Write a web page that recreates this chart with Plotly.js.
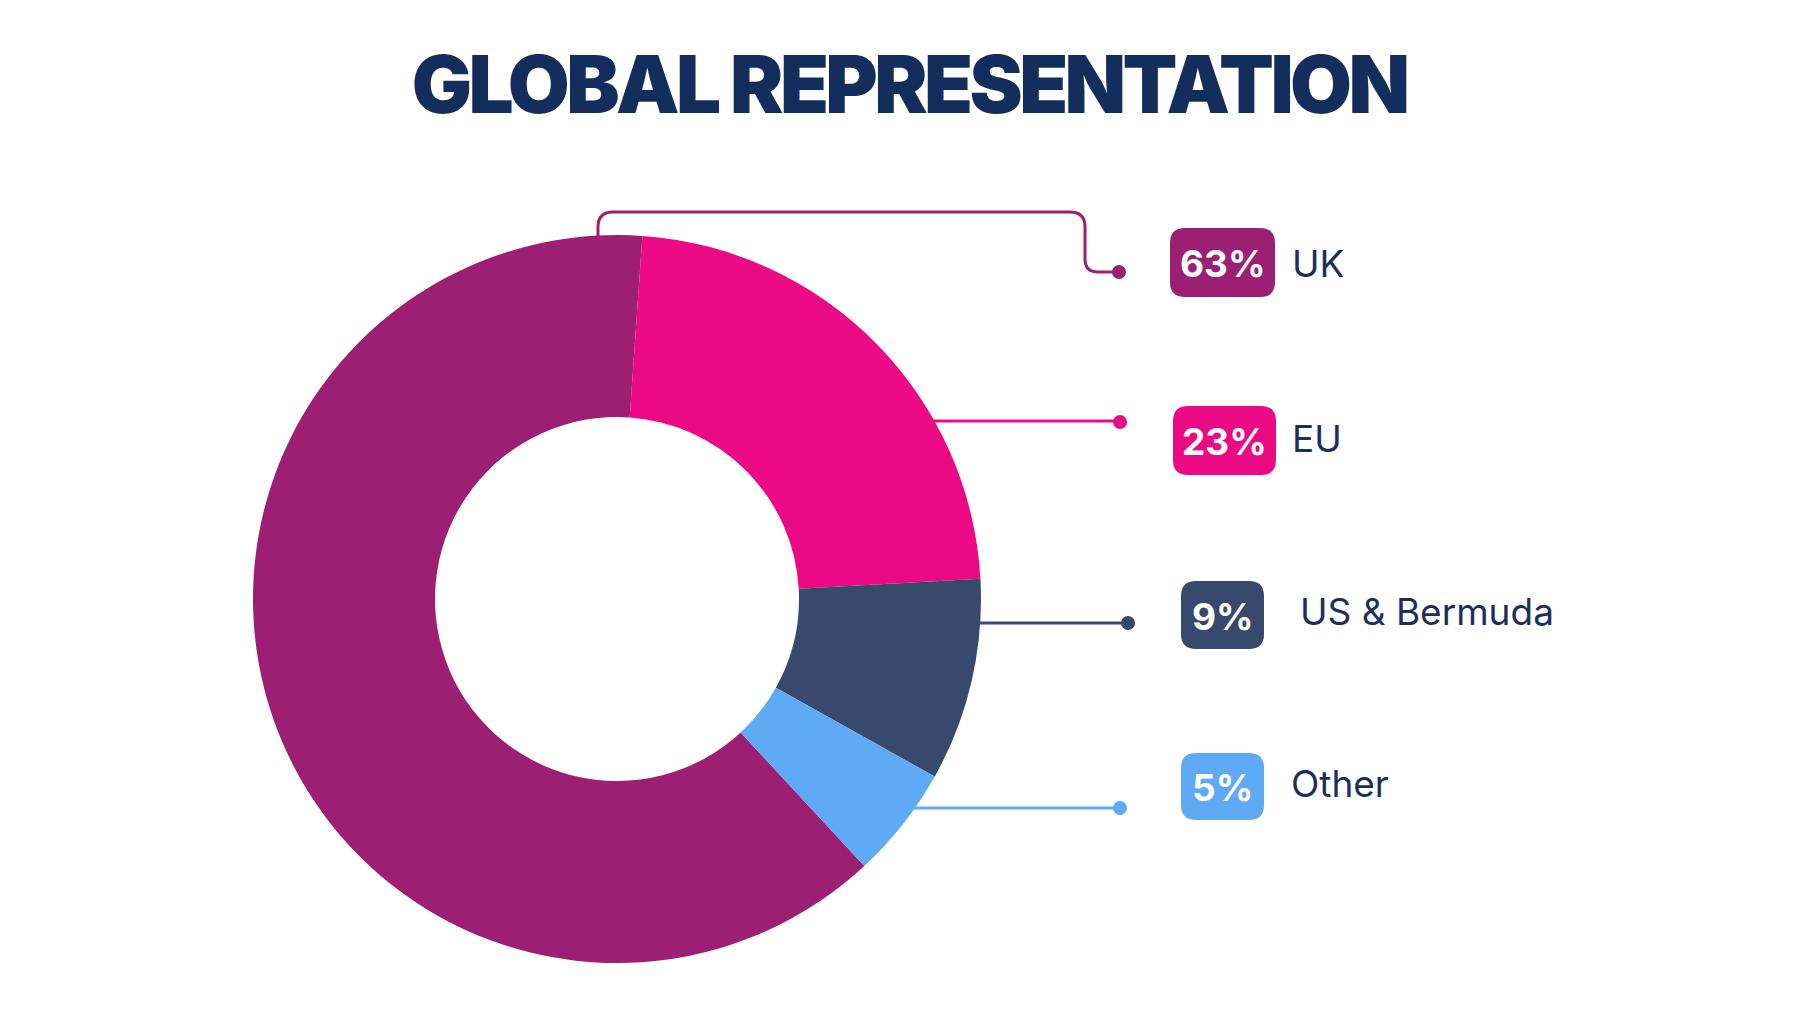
<!DOCTYPE html>
<html>
<head>
<meta charset="utf-8">
<script src="https://cdn.plot.ly/plotly-3.0.1.min.js"></script>
<style>
html,body{margin:0;padding:0;background:#fff;}
#chart{width:1820px;height:1024px;}
.gtitle{letter-spacing:-3.6px;}
</style>
</head>
<body>
<div id="chart"></div>
<script>
// ---- data ----
var categories = ["UK", "EU", "US & Bermuda", "Other"];
var values = [63, 23, 9, 5];
var sliceColors = ["#9C1F74", "#EC0A84", "#374A6E", "#5FAAF5"];
var titleText = "GLOBAL REPRESENTATION";

// ---- layout geometry (pixel space) ----
var W = 1820, H = 1024;
var cx = 617, cy = 599, R = 364;
var badges = [
  {x0:1170, x1:1275, y0:228, y1:297, lx:1292, ly:263},
  {x0:1173, x1:1276, y0:406, y1:475, lx:1292, ly:438},
  {x0:1181, x1:1264, y0:581, y1:649, lx:1300, ly:611},
  {x0:1181, x1:1264, y0:753, y1:820, lx:1291, ly:783}
];
var connectors = [
  {path:"M 598,236 V 227 Q 598,212 613,212 H 1070 Q 1085,212 1085,227 V 259 Q 1085,272 1098,272 H 1119", dot:[1119,272]},
  {path:"M 933,421 H 1120", dot:[1120,422]},
  {path:"M 979,623 H 1128", dot:[1128,623]},
  {path:"M 912,808 H 1120", dot:[1120,808]}
];

function roundRect(x0, y0, x1, y1, r) {
  return "M " + (x0 + r) + "," + y0 + " H " + (x1 - r) + " Q " + x1 + "," + y0 + " " + x1 + "," + (y0 + r) +
    " V " + (y1 - r) + " Q " + x1 + "," + y1 + " " + (x1 - r) + "," + y1 +
    " H " + (x0 + r) + " Q " + x0 + "," + y1 + " " + x0 + "," + (y1 - r) +
    " V " + (y0 + r) + " Q " + x0 + "," + y0 + " " + (x0 + r) + "," + y0 + " Z";
}

var shapes = [];
var annotations = [];
for (var i = 0; i < categories.length; i++) {
  var c = connectors[i], b = badges[i], col = sliceColors[i];
  shapes.push({type:"path", xref:"x", yref:"y", path:c.path, line:{color:col, width:3}, layer:"above"});
  shapes.push({type:"circle", xref:"x", yref:"y", x0:c.dot[0]-7, x1:c.dot[0]+7, y0:c.dot[1]-7, y1:c.dot[1]+7,
    fillcolor:col, line:{width:0}, layer:"above"});
  shapes.push({type:"path", xref:"x", yref:"y", path:roundRect(b.x0, b.y0, b.x1, b.y1, 15),
    fillcolor:col, line:{width:0}, layer:"above"});
  annotations.push({xref:"x", yref:"y", x:(b.x0 + b.x1) / 2, y:(b.y0 + b.y1) / 2 + 1,
    text:values[i] + "%", showarrow:false, xanchor:"center", yanchor:"middle",
    font:{family:"Inter, Lato, sans-serif", size:37, weight:700, color:"#ffffff"}});
  annotations.push({xref:"x", yref:"y", x:b.lx - 2, y:b.ly, text:categories[i], showarrow:false,
    xanchor:"left", yanchor:"middle",
    font:{family:"Inter, Lato, sans-serif", size:37, weight:400, color:"#1B2F5E"}});
}

var trace = {
  type:"pie",
  labels:categories,
  values:values,
  sort:false,
  direction:"clockwise",
  rotation:137.2,
  hole:0.5,
  textinfo:"none",
  hoverinfo:"label+percent",
  showlegend:false,
  marker:{colors:sliceColors, line:{width:0}},
  domain:{x:[(cx - R) / W, (cx + R) / W], y:[(H - cy - R) / H, (H - cy + R) / H]}
};

var layout = {
  width:W, height:H,
  margin:{l:0, r:0, t:0, b:0},
  paper_bgcolor:"#ffffff",
  plot_bgcolor:"rgba(0,0,0,0)",
  title:{text:titleText, x:0.4995, xanchor:"center", y:1 - 85 / H, yanchor:"middle",
    font:{family:"Inter, Lato, sans-serif", size:80, weight:900, color:"#132E5C"}},
  xaxis:{range:[0, W], visible:false, fixedrange:true, domain:[0, 1]},
  yaxis:{range:[H, 0], visible:false, fixedrange:true, domain:[0, 1]},
  shapes:shapes,
  annotations:annotations,
  showlegend:false
};

Plotly.newPlot("chart", [trace], layout, {staticPlot:true, displayModeBar:false});
</script>
</body>
</html>
